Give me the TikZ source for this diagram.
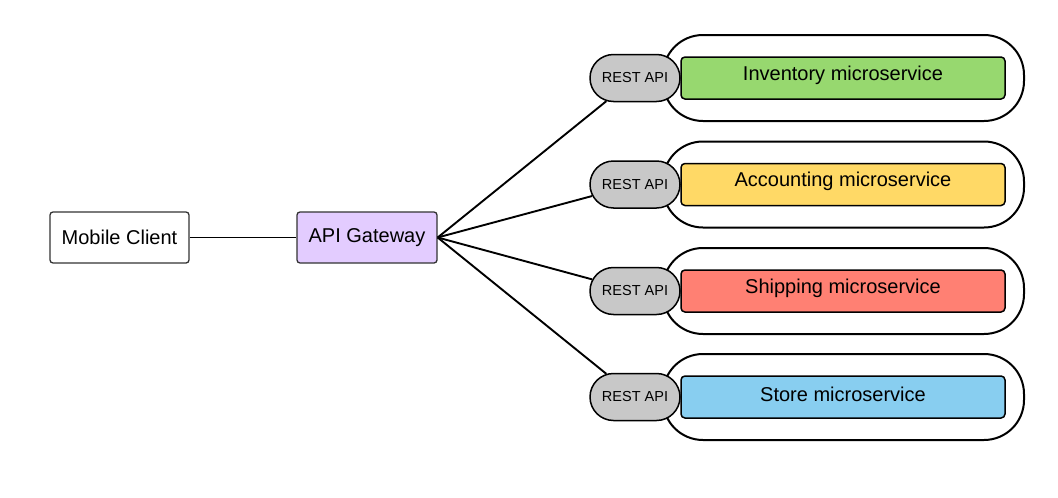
\documentclass[tikz,border=0pt]{standalone}
\usepackage{fontspec}
\setmainfont{Liberation Sans}
\usetikzlibrary{shapes.misc}
\definecolor{gwfill}{HTML}{E3CCFF}
\definecolor{restfill}{HTML}{C8C8C8}
\definecolor{invfill}{HTML}{97D86F}
\definecolor{accfill}{HTML}{FFD966}
\definecolor{shipfill}{HTML}{FF8073}
\definecolor{storefill}{HTML}{88CEF0}
\definecolor{edge}{HTML}{333333}
\begin{document}
\begin{tikzpicture}[x=1pt,y=-1pt,
  mainfont/.style={font=\fontsize{20}{24}\selectfont},
  plainbox/.style={draw=edge,line width=1.3pt,rounded corners=3pt,inner sep=0pt,
    mainfont,minimum height=51pt},
  shell/.style={draw=black,line width=2pt,fill=white,rounded corners=40pt,
    minimum width=361pt,minimum height=86pt,inner sep=0pt},
  restbox/.style={rounded rectangle,draw=black,line width=1.5pt,fill=restfill,
    minimum width=90pt,minimum height=47pt,inner sep=0pt,
    font=\fontsize{14.5}{17}\selectfont},
  svcbox/.style={draw=black,line width=1.5pt,rounded corners=4pt,inner sep=0pt,
    minimum width=324pt,minimum height=42pt,mainfont},
  link/.style={draw=black,line width=1.9pt}]
\useasboundingbox (0,0) rectangle (1058,498);

% client and gateway
\node[plainbox,minimum width=139pt,fill=white] (client) at (119.5,237.5) {Mobile Client};
\node[plainbox,minimum width=140pt,fill=gwfill] (gw) at (367,237.5) {API Gateway};
\draw[link] (client.east) -- (gw.west);

% microservices, each with its REST API
\foreach \name/\yc/\col/\label in {inv/78/invfill/Inventory microservice,
                                   acc/184.5/accfill/Accounting microservice,
                                   ship/291/shipfill/Shipping microservice,
                                   store/397/storefill/Store microservice}{
  \node[shell] (\name-shell) at (843.5,\yc) {};
  \node[restbox] (\name-rest) at (635,\yc) {REST API};
  \node[svcbox,fill=\col] (\name-svc) at (843,\yc) {\raisebox{3pt}[\height][\depth]{\label}};
  \draw[link] (gw.east) -- (\name-rest);
}
\end{tikzpicture}
\end{document}
